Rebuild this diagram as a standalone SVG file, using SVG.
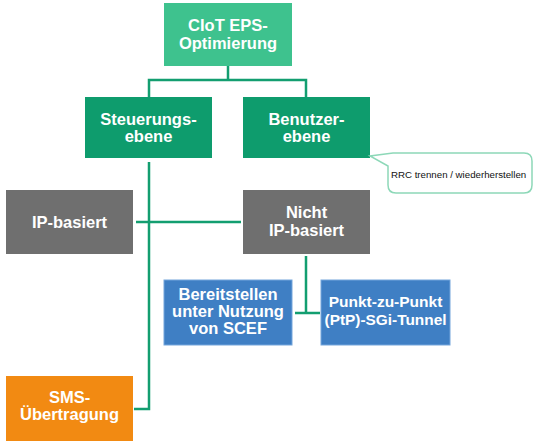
<svg xmlns="http://www.w3.org/2000/svg" width="540" height="442" viewBox="0 0 540 442">
<style>
.lbl{font-family:"Liberation Sans",Arial,sans-serif;font-weight:bold;font-size:16.5px;fill:#ffffff;text-anchor:middle}
.small{font-family:"Liberation Sans",Arial,sans-serif;font-size:9.7px;fill:#111111}
.conn{fill:none;stroke:#139e70;stroke-width:2.5}
.light{fill:#3ec28e}
.dark{fill:#0e9c6d}
.gray{fill:#6f6f6f}
.blue{fill:#3f7fc4;stroke:#74a6dc;stroke-width:1}
.orange{fill:#f28a12}
</style>
<rect width="540" height="442" fill="#ffffff"/>
<g id="connectors">
<path class="conn" d="M228 66 V80 M149 97 V80 H306 V97"/>
<path class="conn" d="M149 162 V409 H134"/>
<path class="conn" d="M136 222 H241"/>
<path class="conn" d="M306 256 V313 M295 313 H320"/>
</g>
<g id="n-ciot">
<rect class="light" x="164" y="3" width="128" height="63"/>
<text class="lbl" x="228" y="31">CIoT EPS-</text>
<text class="lbl" x="228" y="49">Optimierung</text>
</g>
<g id="n-steuerung">
<rect class="dark" x="85" y="97" width="127" height="61"/>
<text class="lbl" x="148.5" y="124.5">Steuerungs-</text>
<text class="lbl" x="148.5" y="141.5">ebene</text>
</g>
<g id="n-benutzer">
<rect class="dark" x="243" y="97" width="127" height="61"/>
<text class="lbl" x="306.5" y="124.5">Benutzer-</text>
<text class="lbl" x="306.5" y="141.5">ebene</text>
</g>
<g id="n-callout">
<path d="M400 153 H524 Q532 153 532 161 V185 Q532 193 524 193 H396 Q388 193 388 185 V166 L370 156 L393 153 Z" fill="#ffffff" stroke="#8dd8b8" stroke-width="1.5"/>
<text class="small" x="391" y="178">RRC trennen / wiederherstellen</text>
</g>
<g id="n-ip">
<rect class="gray" x="6" y="190" width="127" height="64"/>
<text class="lbl" x="69.5" y="227.5">IP-basiert</text>
</g>
<g id="n-nichtip">
<rect class="gray" x="243" y="190" width="127" height="64"/>
<text class="lbl" x="306.5" y="218">Nicht</text>
<text class="lbl" x="306.5" y="236">IP-basiert</text>
</g>
<g id="n-scef">
<rect class="blue" x="164" y="280" width="128" height="65"/>
<text class="lbl" x="228" y="299.5">Bereitstellen</text>
<text class="lbl" x="228" y="316.5">unter Nutzung</text>
<text class="lbl" x="228" y="333.5">von SCEF</text>
</g>
<g id="n-ptp">
<rect class="blue" x="321" y="280" width="129" height="65"/>
<text class="lbl" x="385.5" y="307" style="font-size:15.5px">Punkt-zu-Punkt</text>
<text class="lbl" x="385.5" y="325" style="font-size:15.5px" textLength="122" lengthAdjust="spacingAndGlyphs">(PtP)-SGi-Tunnel</text>
</g>
<g id="n-sms">
<rect class="orange" x="6" y="376" width="127" height="65"/>
<text class="lbl" x="69.5" y="403">SMS-</text>
<text class="lbl" x="69.5" y="420">Übertragung</text>
</g>
</svg>
